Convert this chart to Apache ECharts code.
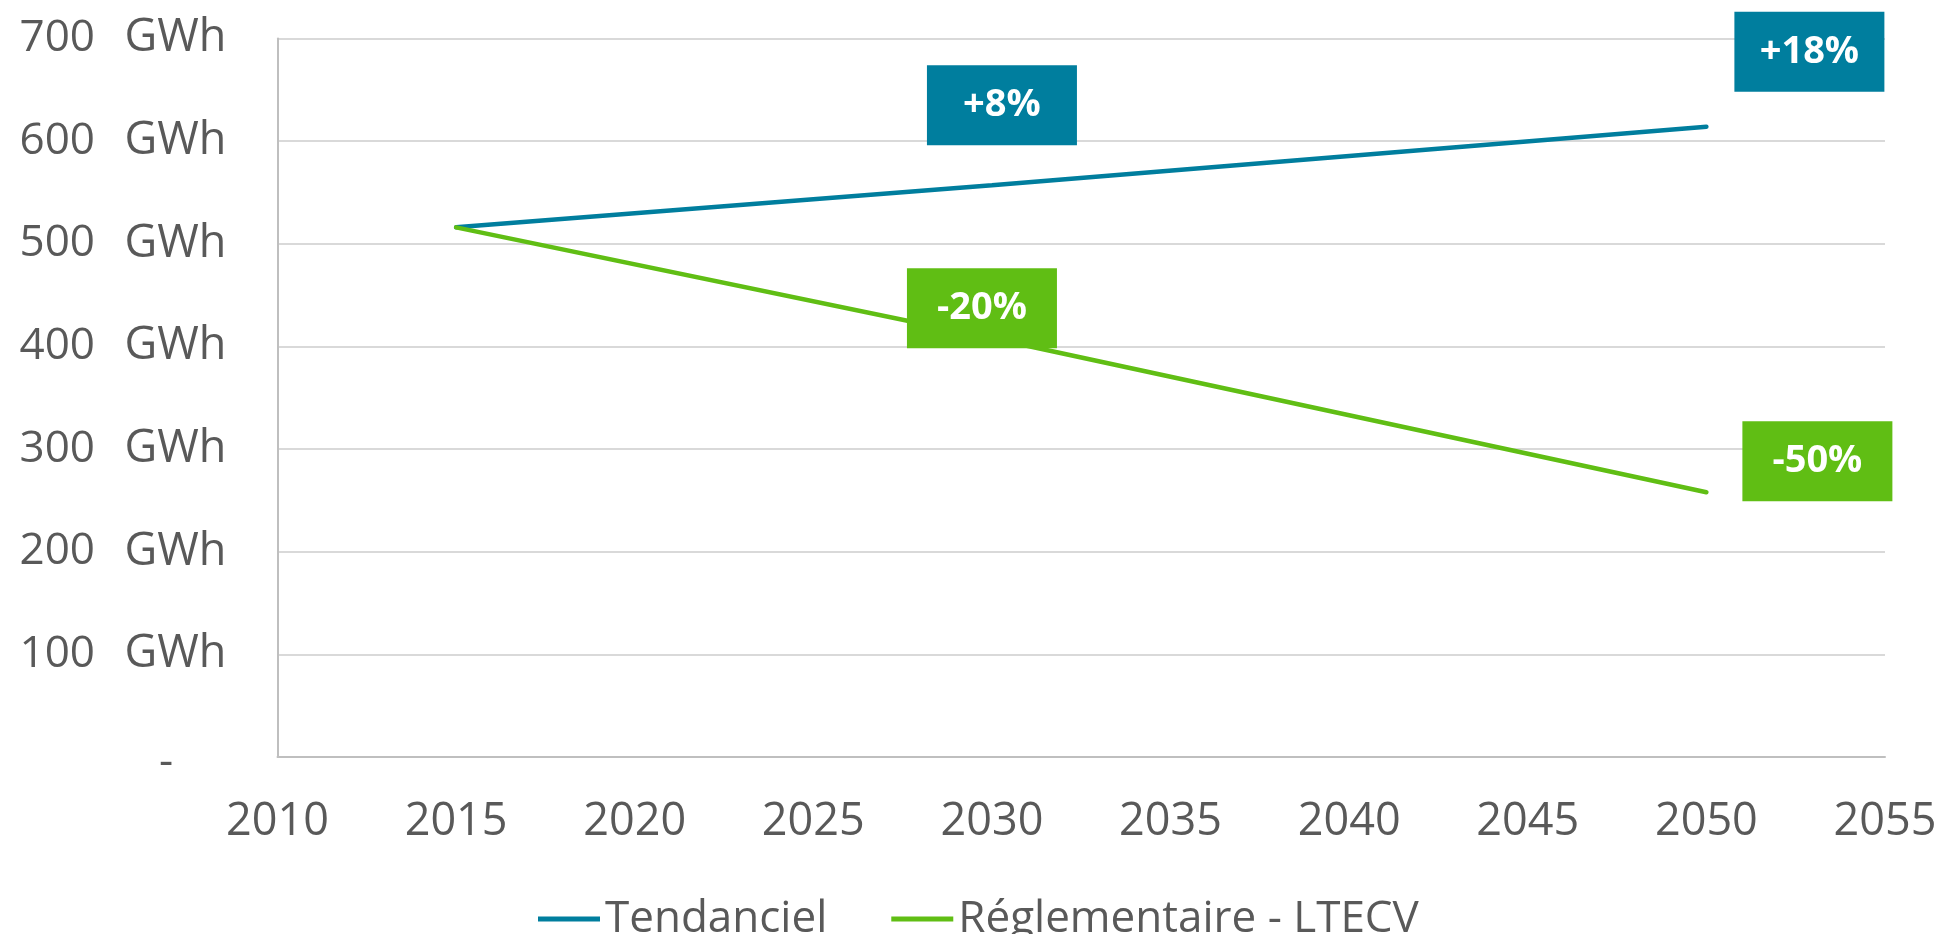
<!DOCTYPE html>
<html>
<head>
<meta charset="utf-8">
<script src="https://cdn.jsdelivr.net/npm/echarts@6/dist/echarts.min.js"></script>
<style>
  html, body { margin: 0; padding: 0; background: #fff; }
  #main { width: 1943px; height: 934px; }
</style>
</head>
<body>
<div id="main"></div>
<script>
// données
const years = [2015, 2030, 2050];
const tendanciel = [516, 557, 614];
const reglementaire = [516, 408, 258];
const seriesNames = ['Tendanciel', 'Réglementaire - LTECV'];
// étiquettes d'évolution (2030, 2050)
const tendLabels = ['+8%', '+18%'];
const reglLabels = ['-20%', '-50%'];

const BLUE = '#007E9E';
const GREEN = '#60BE14';
const TXT = '#595959';
const FONT = '"Open Sans", sans-serif';

const chart = echarts.init(document.getElementById('main'));

// boîte d'annotation posée sur un point de la série
function badge(x, y, text, color, offset) {
  return {
    coord: [x, y],
    symbol: 'rect',
    symbolSize: [150, 80],
    symbolOffset: offset,
    itemStyle: { color: color },
    label: {
      show: true,
      position: 'inside',
      formatter: text,
      color: '#fff',
      fontFamily: FONT,
      fontWeight: 'bold',
      fontSize: 38
    }
  };
}

function pts(vals) {
  return years.map((y, i) => [y, vals[i]]);
}

const tendMarks = [
  badge(years[1], tendanciel[1], tendLabels[0], BLUE, [10, -80]),
  badge(years[2], tendanciel[2], tendLabels[1], BLUE, [103, -75])
];
const reglMarks = [
  badge(years[1], reglementaire[1], reglLabels[0], GREEN, [-10, -30]),
  badge(years[2], reglementaire[2], reglLabels[1], GREEN, [111, -31])
];

const option = {
  animation: false,
  backgroundColor: '#fff',
  textStyle: { fontFamily: FONT },
  grid: { left: 277.5, right: 58, top: 38.5, bottom: 177 },
  legend: {
    data: seriesNames,
    icon: 'rect',
    left: 533,
    top: 892,
    itemWidth: 62,
    itemHeight: 5,
    itemGap: 64,
    textStyle: { color: TXT, fontSize: 44, fontFamily: FONT }
  },
  xAxis: {
    type: 'value',
    min: 2010,
    max: 2055,
    interval: 5,
    axisLine: { show: true, lineStyle: { color: '#BFBFBF', width: 2 } },
    axisTick: { show: false },
    splitLine: { show: false },
    axisLabel: {
      margin: 43,
      color: TXT,
      fontSize: 45,
      fontFamily: FONT,
      formatter: v => String(v)
    }
  },
  yAxis: {
    type: 'value',
    min: 0,
    max: 700,
    interval: 100,
    axisLine: { show: true, lineStyle: { color: '#BFBFBF', width: 2 } },
    axisTick: { show: false },
    splitLine: { lineStyle: { color: '#D9D9D9', width: 2 } },
    axisLabel: {
      margin: 43,
      color: TXT,
      fontSize: 44,
      fontFamily: FONT,
      formatter: v => v === 0 ? '{d|-}' : '{n|' + v + '}{u|GWh}',
      rich: {
        n: { width: 105, align: 'left', color: TXT, fontSize: 44, fontFamily: FONT },
        u: { width: 110, align: 'left', color: TXT, fontSize: 45, fontFamily: FONT },
        d: { width: 137, align: 'center', color: TXT, fontSize: 44, fontFamily: FONT, padding: [10, 0, 0, 0] }
      }
    }
  },
  series: [
    {
      name: seriesNames[0],
      type: 'line',
      data: pts(tendanciel),
      symbol: 'none',
      lineStyle: { color: BLUE, width: 4.5, cap: 'round' },
      itemStyle: { color: BLUE },
      markPoint: { silent: true, data: tendMarks }
    },
    {
      name: seriesNames[1],
      type: 'line',
      data: pts(reglementaire),
      symbol: 'none',
      lineStyle: { color: GREEN, width: 4.5, cap: 'round' },
      itemStyle: { color: GREEN },
      markPoint: { silent: true, data: reglMarks }
    }
  ]
};

chart.setOption(option);
</script>
</body>
</html>
